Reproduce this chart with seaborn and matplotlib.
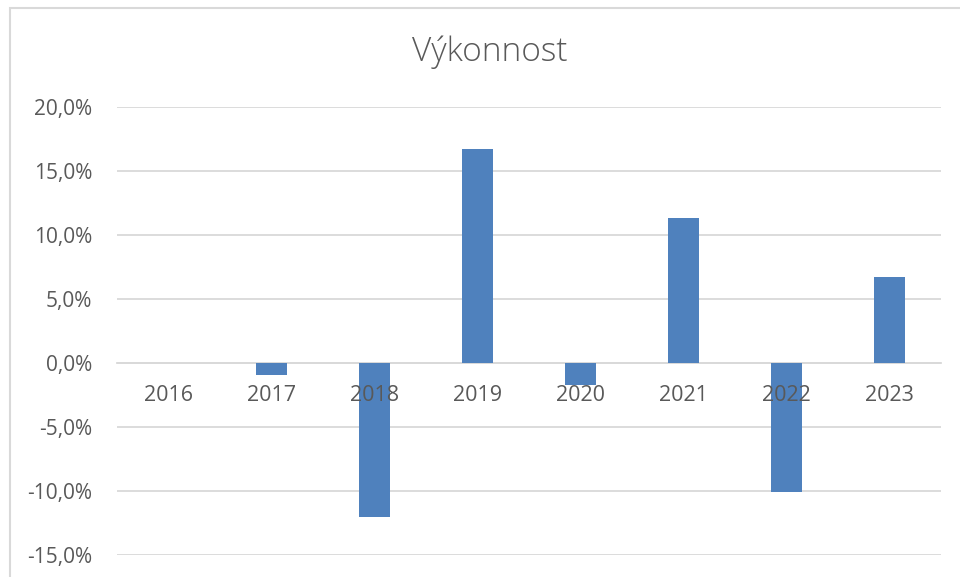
import seaborn as sns
import matplotlib.pyplot as plt
import pandas as pd
from matplotlib.patches import Rectangle
from matplotlib.ticker import FuncFormatter, MultipleLocator

# Data (annual performance, %)
years = ["2016", "2017", "2018", "2019", "2020", "2021", "2022", "2023"]
performance = [0.0, -0.9, -12.0, 16.75, -1.7, 11.35, -10.05, 6.7]
title = "Výkonnost"

df = pd.DataFrame({"Rok": years, "Výkonnost": performance})

sns.set_style("white")
plt.rcParams["font.family"] = ["Open Sans", "DejaVu Sans"]

W, H = 960, 577
fig = plt.figure(figsize=(W / 100, H / 100), dpi=100)
ax = fig.add_axes([117 / W, 1 - 555 / H, (941 - 117) / W, (555 - 107) / H])

sns.barplot(data=df, x="Rok", y="Výkonnost", color="#4f81bd", width=0.31,
            linewidth=0, saturation=1, ax=ax, zorder=2)

ax.set_ylim(-15, 20)
ax.yaxis.set_major_locator(MultipleLocator(5))
ax.yaxis.set_major_formatter(FuncFormatter(lambda v, p: f"{v:.1f}%".replace(".", ",")))
ax.grid(axis="y", color="#d9d9d9", linewidth=1.3)
ax.set_axisbelow(True)

for s in ["top", "right", "left"]:
    ax.spines[s].set_visible(False)
ax.spines["bottom"].set_position(("data", 0))
ax.spines["bottom"].set_color("#d9d9d9")
ax.spines["bottom"].set_linewidth(1.3)
ax.spines["bottom"].set_zorder(1)
ax.xaxis.set_zorder(3)

ax.tick_params(axis="x", length=0, pad=16, labelsize=15.5, labelcolor="#595959")
ax.tick_params(axis="y", length=0, pad=18, labelsize=15, labelcolor="#595959")
ax.set_xlabel("")
ax.set_ylabel("")

fig.text(490 / W, 1 - 52 / H, title, ha="center", va="center",
         fontsize=24, color="#595959", fontweight="light")

# Chart frame (Excel-style border)
fig.patches.append(Rectangle((10 / W, -0.1), 1.2, 1 - 8 / H + 0.1,
                             transform=fig.transFigure, fill=False,
                             edgecolor="#d9d9d9", linewidth=1.5))

plt.savefig("out.png", dpi=100)
plt.close()
